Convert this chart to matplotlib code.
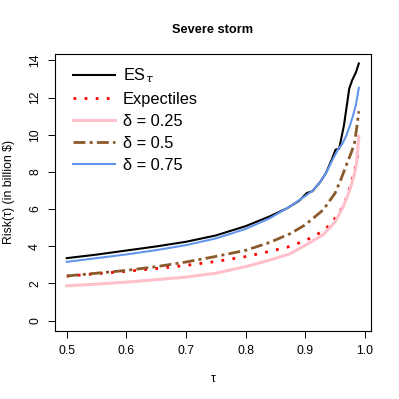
import matplotlib
matplotlib.use("Agg")
import matplotlib.pyplot as plt

plt.rcParams['font.family'] = ['Liberation Sans', 'DejaVu Sans']

# valores
tau_es = [0.50, 0.55, 0.60, 0.65, 0.70, 0.75, 0.80, 0.84, 0.87, 0.89, 0.903, 0.912,
          0.925, 0.935, 0.945, 0.951, 0.957, 0.965, 0.974, 0.979, 0.985, 0.99]
es = [3.36, 3.55, 3.77, 3.99, 4.24, 4.58, 5.08, 5.6, 6.05, 6.45, 6.87, 6.96,
      7.45, 7.95, 8.7, 9.2, 9.25, 10.5, 12.5, 12.95, 13.35, 13.84]

tau_exp = [0.50, 0.55, 0.60, 0.65, 0.70, 0.75, 0.80, 0.84, 0.87, 0.90, 0.92, 0.94,
           0.955, 0.965, 0.972, 0.978, 0.983, 0.987, 0.99]
expectiles = [2.39, 2.52, 2.65, 2.80, 2.97, 3.18, 3.44, 3.72, 3.95, 4.3, 4.63, 5.1,
              5.7, 6.25, 6.85, 7.5, 8.1, 8.7, 9.24]

tau_d25 = [0.50, 0.55, 0.60, 0.65, 0.70, 0.75, 0.80, 0.84, 0.875, 0.90, 0.93, 0.95,
           0.964, 0.975, 0.982, 0.986, 0.99]
d25 = [1.87, 1.96, 2.07, 2.20, 2.34, 2.55, 2.90, 3.25, 3.6, 4.05, 4.62, 5.3,
       6.15, 7.05, 7.8, 8.4, 9.92]

tau_d50 = [0.50, 0.55, 0.60, 0.65, 0.70, 0.75, 0.80, 0.84, 0.875, 0.90, 0.93, 0.95,
           0.96, 0.97, 0.978, 0.983, 0.987, 0.99]
d50 = [2.40, 2.55, 2.70, 2.90, 3.15, 3.45, 3.78, 4.2, 4.68, 5.15, 5.95, 6.85,
       7.6, 8.45, 9.1, 9.6, 10.5, 11.27]

tau_d75 = [0.50, 0.55, 0.60, 0.65, 0.70, 0.75, 0.80, 0.84, 0.875, 0.90, 0.912, 0.925,
           0.936, 0.945, 0.955, 0.962, 0.969, 0.975, 0.98, 0.985, 0.99]
d75 = [3.16, 3.36, 3.56, 3.79, 4.06, 4.42, 4.93, 5.5, 6.15, 6.7, 6.98, 7.45,
       8.0, 8.6, 9.2, 9.5, 9.95, 10.5, 11.0, 11.6, 12.53]

xticks = [0.5, 0.6, 0.7, 0.8, 0.9, 1.0]
yticks = [0, 2, 4, 6, 8, 10, 12, 14]

fig = plt.figure(figsize=(3.99, 3.99), dpi=100)
ax = fig.add_axes([0.138, 0.171, 0.7906, 0.6937])

ax.plot(tau_es, es, color='black', lw=1.5, label=r'ES$_\tau$')
ax.plot(tau_exp, expectiles, color='red', lw=2.0, linestyle=(0, (1, 3)), label='Expectiles')
ax.plot(tau_d25, d25, color='#FFC0CB', lw=2.2, label='δ = 0.25')
ax.plot(tau_d50, d50, color='#8B5A2B', lw=2.0, linestyle=(0, (4.3, 1.5, 1.1, 1.5)), label='δ = 0.5')
ax.plot(tau_d75, d75, color='#6495ED', lw=1.5, label='δ = 0.75')

ax.set_xlim(0.4804, 1.0096)
ax.set_ylim(-0.55, 14.35)
ax.set_xticks(xticks)
ax.set_xticklabels(['0.5', '0.6', '0.7', '0.8', '0.9', '1.0'])
ax.set_yticks(yticks)
ax.set_yticklabels([str(v) for v in yticks], rotation=90, va='center')
ax.tick_params(length=5, width=0.7, pad=5, labelsize=8.8)
for s in ax.spines.values():
    s.set_linewidth(0.8)

ax.set_title('Severe storm', fontsize=9.2, fontweight='bold', pad=15)
ax.set_xlabel('τ', fontsize=8.8, labelpad=12)
ax.set_ylabel('Risk(τ) (in billion $)', fontsize=8.8, labelpad=10)

ax.legend(loc='upper left', bbox_to_anchor=(0.057, 0.955), frameon=False, fontsize=11.8,
          handlelength=2.55, handletextpad=0.5, labelspacing=0.42, borderpad=0, borderaxespad=0)

fig.savefig('out.png', dpi=100)
